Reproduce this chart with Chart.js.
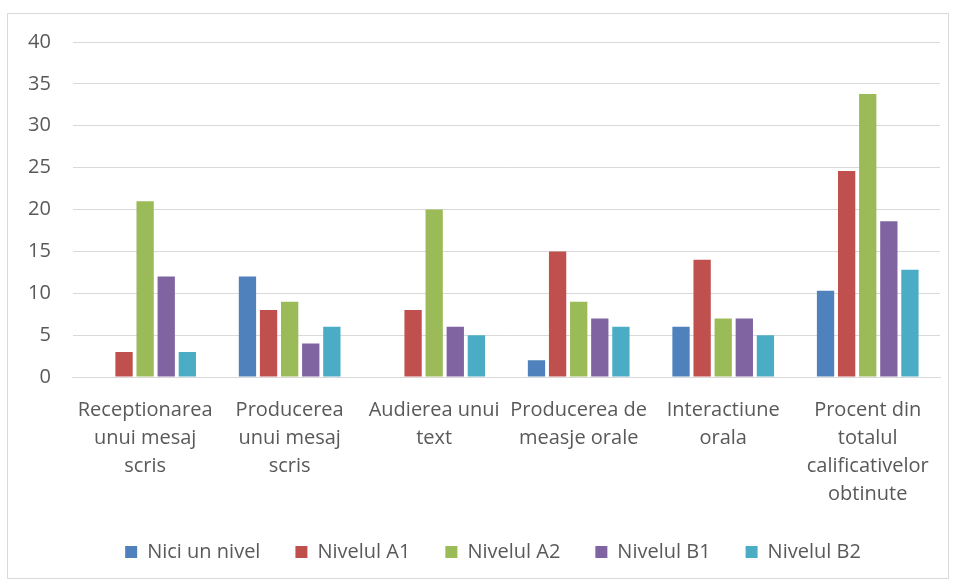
<!DOCTYPE html>
<html>
<head>
<meta charset="utf-8">
<script src="https://cdn.jsdelivr.net/npm/chart.js@4"></script>
<style>
  body{margin:0;background:#fff;}
  #wrap{position:relative;width:953px;height:580px;}
  #frame{position:absolute;left:7px;top:13px;width:942px;height:566px;border:1px solid #d9d9d9;box-sizing:border-box;}
  canvas{position:absolute;left:0;top:0;}
</style>
</head>
<body>
<div id="wrap">
  <div id="frame"></div>
  <canvas id="chart" width="953" height="580"></canvas>
</div>
<script>
// categorii (pe mai multe randuri, ca in original)
const categories = [
  ['Receptionarea','unui mesaj','scris'],
  ['Producerea','unui mesaj','scris'],
  ['Audierea unui','text'],
  ['Producerea de','measje orale'],
  ['Interactiune','orala'],
  ['Procent din','totalul','calificativelor','obtinute']
];
const seriesNames = ['Nici un nivel','Nivelul A1','Nivelul A2','Nivelul B1','Nivelul B2'];
const niciUnNivel = [0, 12, 0, 2, 6, 10.3];
const nivelA1 = [3, 8, 8, 15, 14, 24.6];
const nivelA2 = [21, 9, 20, 9, 7, 33.8];
const nivelB1 = [12, 4, 6, 7, 7, 18.6];
const nivelB2 = [3, 6, 5, 6, 5, 12.8];
const colors = ['#4F81BD','#C0504D','#9BBB59','#8064A2','#4BACC6'];

const allSeries = [niciUnNivel, nivelA1, nivelA2, nivelB1, nivelB2];
const FONT = "'Open Sans', 'Liberation Sans', sans-serif";

// legenda e putin mutata la dreapta, ca in original
const legendShift = {
  id: 'legendShift',
  afterLayout(chart){
    chart.legend.left += 20;
    chart.legend.right += 20;
  }
};

const ctx = document.getElementById('chart').getContext('2d');
new Chart(ctx, {
  type: 'bar',
  data: {
    labels: categories,
    datasets: allSeries.map((d,i)=>({
      label: seriesNames[i],
      data: d,
      backgroundColor: colors[i],
      borderWidth: 0,
      barPercentage: 0.82,
      categoryPercentage: 0.73
    }))
  },
  plugins: [legendShift],
  options: {
    responsive: false,
    animation: false,
    layout: {padding: {left: 6, right: 13, top: 42, bottom: 8}},
    plugins: {
      legend: {
        position: 'bottom',
        labels: {
          font: {family: FONT, size: 20},
          color: '#595959',
          boxWidth: 12,
          boxHeight: 12,
          padding: 15,
          generateLabels(chart){
            const items = Chart.defaults.plugins.legend.labels.generateLabels(chart);
            items.forEach((it,i)=>{ if(i<items.length-1) it.text += '\u2003'; });
            return items;
          }
        }
      },
      tooltip: {enabled: false}
    },
    scales: {
      x: {
        grid: {display: false, drawTicks: false},
        border: {color: '#d9d9d9', width: 1},
        ticks: {
          font: {family: FONT, size: 20, lineHeight: 1.4},
          color: '#595959',
          padding: 19,
          maxRotation: 0,
          autoSkip: false
        }
      },
      y: {
        min: 0,
        max: 40,
        grid: {color: '#d9d9d9', drawTicks: false},
        border: {display: false},
        ticks: {
          stepSize: 5,
          font: {family: FONT, size: 20},
          color: '#595959',
          padding: 22
        }
      }
    }
  }
});
</script>
</body>
</html>
